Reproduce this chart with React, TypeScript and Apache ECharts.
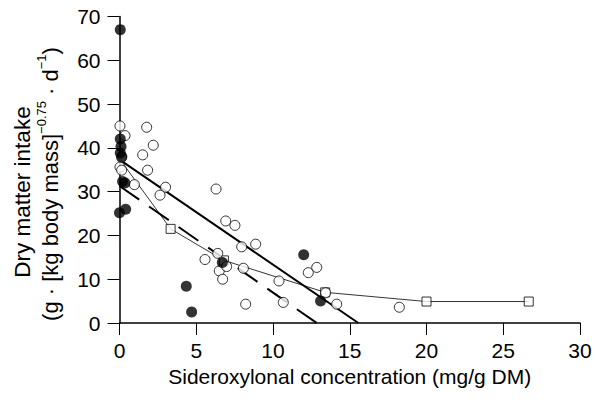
import React, { useEffect, useRef } from "react";
import * as echarts from "echarts";

// Filled circles
const filledX = [0.05, 0.05, 0.1, 0.05, 0.15, 0.2, 0.35, 0.0, 0.4, 4.35, 4.7, 6.7, 12.0, 13.1];
const filledY = [67, 42, 40.3, 38.8, 38, 32.3, 32, 25.2, 26, 8.4, 2.5, 13.8, 15.6, 5];

// Open circles
const openX = [0.03, 0.36, 1.77, 2.2, 1.51, 1.83, 0.14, 0.03, 0.14, 0.97, 3.0, 2.64, 6.29, 5.57, 6.4, 6.92, 7.52, 7.96, 8.87, 6.5, 6.98, 6.72, 8.07, 10.39, 8.22, 10.67, 12.3, 12.85, 13.43, 14.15, 18.23];
const openY = [45, 42.8, 44.7, 40.6, 38.4, 34.9, 37.8, 35.6, 34.9, 31.6, 31, 29.2, 30.6, 14.5, 15.9, 23.3, 22.3, 17.4, 18, 11.9, 12.9, 10, 12.5, 9.6, 4.3, 4.7, 11.5, 12.7, 6.9, 4.3, 3.6];

// Open squares (connected by thin line)
const squareX = [0, 3.33, 6.8, 13.4, 20, 26.66];
const squareY = [37.5, 21.5, 14.3, 7.0, 4.9, 4.9];

// Regression lines
const solidFitX = [0, 15.56];
const solidFitY = [37.3, 0];
const dashedFitX = [0, 12.85];
const dashedFitY = [31.3, 0];

// Axis ticks
const xTicks = [0, 5, 10, 15, 20, 25, 30];
const yTicks = [0, 10, 20, 30, 40, 50, 60, 70];

const zip = (xs: number[], ys: number[]) => xs.map((x, i) => [x, ys[i]]);

const FONT = "Liberation Sans, Arial, Helvetica, sans-serif";

export default function App() {
  const ref = useRef<HTMLDivElement>(null);
  useEffect(() => {
    if (!ref.current) return;
    const chart = echarts.init(ref.current, null, { renderer: "svg" });
    chart.setOption({
      animation: false,
      backgroundColor: "#ffffff",
      grid: { left: 119.5, right: 16, top: 16.5, bottom: 77, containLabel: false },
      xAxis: {
        type: "value",
        min: xTicks[0],
        max: xTicks[xTicks.length - 1],
        interval: 5,
        offset: 1,
        name: "Sideroxylonal concentration (mg/g DM)",
        nameLocation: "middle",
        nameGap: 42,
        nameTextStyle: { color: "#000", fontSize: 21, fontFamily: FONT },
        axisLine: { show: true, lineStyle: { color: "#000", width: 1.5 } },
        axisTick: { show: true, inside: false, length: 12, lineStyle: { color: "#000", width: 1 } },
        axisLabel: { color: "#000", fontSize: 21, fontFamily: FONT, margin: 16 },
        splitLine: { show: false },
      },
      yAxis: {
        type: "value",
        min: yTicks[0],
        max: yTicks[yTicks.length - 1],
        interval: 10,
        offset: 3,
        axisLine: { show: true, lineStyle: { color: "#000", width: 1.5 } },
        axisTick: { show: true, inside: false, length: 12, lineStyle: { color: "#000", width: 1 } },
        axisLabel: { color: "#000", fontSize: 21, fontFamily: FONT, margin: 16 },
        splitLine: { show: false },
      },
      graphic: [
        {
          type: "text",
          x: 22,
          y: 192,
          rotation: Math.PI / 2,
          style: {
            text: "Dry matter intake",
            fill: "#000",
            font: `22.5px ${FONT}`,
            align: "center",
            verticalAlign: "middle",
          },
        },
        {
          type: "text",
          x: 48,
          y: 184,
          rotation: Math.PI / 2,
          style: {
            text: "{a|(g · [kg body mass]}{s|−0.75}{a| · d}{s|−1}{a|)}",
            align: "center",
            verticalAlign: "middle",
            rich: {
              a: { fill: "#000", fontSize: 22, fontFamily: FONT, lineHeight: 26, verticalAlign: "bottom" },
              s: { fill: "#000", fontSize: 13, fontFamily: FONT, lineHeight: 26, verticalAlign: "top" },
            },
          },
        },
      ],
      series: [
        {
          type: "line",
          data: zip(solidFitX, solidFitY),
          symbol: "none",
          lineStyle: { color: "#000", width: 2 },
          z: 2,
        },
        {
          type: "line",
          data: zip(dashedFitX, dashedFitY),
          symbol: "none",
          lineStyle: { color: "#000", width: 2, type: [24, 12] },
          z: 2,
        },
        {
          type: "line",
          data: zip(squareX, squareY),
          symbol: "none",
          lineStyle: { color: "#000", width: 0.8 },
          z: 2,
        },
        {
          type: "scatter",
          data: zip(squareX, squareY).slice(1),
          symbol: "rect",
          symbolSize: 9,
          itemStyle: { color: "#fff", borderColor: "#000", borderWidth: 1 },
          z: 3,
        },
        {
          type: "scatter",
          data: zip(openX, openY),
          symbol: "circle",
          symbolSize: 10,
          itemStyle: { color: "#fff", borderColor: "#000", borderWidth: 1 },
          z: 4,
        },
        {
          type: "scatter",
          data: zip(filledX, filledY),
          symbol: "circle",
          symbolSize: 11,
          itemStyle: { color: "#000" },
          z: 5,
        },
      ],
    });
    return () => chart.dispose();
  }, []);
  return <div ref={ref} style={{ width: 596, height: 400, position: "absolute", left: 0, top: 0 }} />;
}
